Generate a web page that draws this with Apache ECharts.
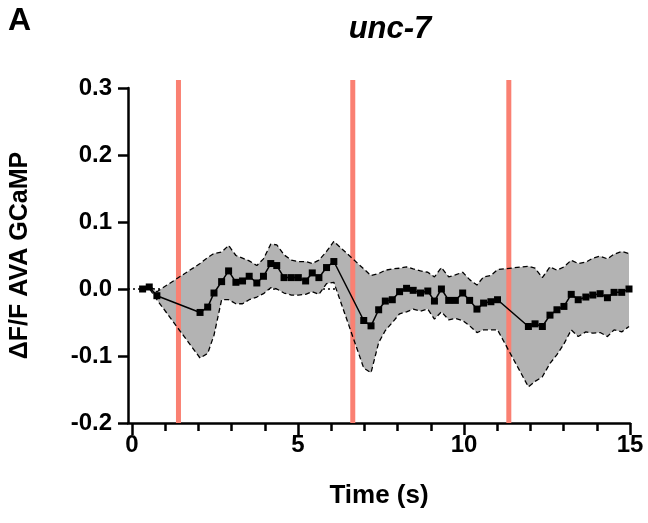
<!DOCTYPE html>
<html>
<head>
<meta charset="utf-8">
<script src="https://cdn.jsdelivr.net/npm/echarts@6/dist/echarts.min.js"></script>
<style>
html,body{margin:0;padding:0;background:#fff;}
#chart{width:648px;height:523px;}
</style>
</head>
<body>
<div id="chart"></div>
<script>
// ---- data ----
const panelLabel = 'A';
const chartTitle = 'unc-7';
const xName = 'Time (s)';
const yName = '\u0394F/F AVA GCaMP';

const times = [0.32,0.52,0.75,2.05,2.28,2.47,2.70,2.91,3.13,3.33,3.53,3.76,3.96,4.18,4.36,4.58,4.80,5.01,5.23,5.43,5.63,5.86,6.08,6.98,7.20,7.43,7.63,7.84,8.06,8.27,8.47,8.69,8.91,9.11,9.32,9.54,9.74,9.96,10.17,10.39,10.59,10.81,11.01,11.94,12.14,12.36,12.59,12.80,13.01,13.23,13.44,13.67,13.88,14.10,14.32,14.52,14.75,14.97];
const meanVals = [0.000,0.003,-0.010,-0.035,-0.027,-0.006,0.011,0.027,0.010,0.012,0.019,0.009,0.019,0.038,0.035,0.017,0.017,0.017,0.012,0.024,0.017,0.032,0.041,-0.047,-0.055,-0.031,-0.018,-0.016,-0.004,0.001,-0.002,-0.006,-0.003,-0.018,0.000,-0.017,-0.017,-0.006,-0.017,-0.030,-0.021,-0.019,-0.016,-0.056,-0.052,-0.056,-0.039,-0.031,-0.026,-0.008,-0.016,-0.012,-0.009,-0.007,-0.013,-0.005,-0.005,0.000];
const upperVals = [0.001,0.005,-0.004,0.038,0.047,0.053,0.055,0.065,0.050,0.046,0.042,0.035,0.045,0.067,0.066,0.051,0.043,0.041,0.041,0.038,0.043,0.056,0.071,0.030,0.020,0.023,0.028,0.030,0.031,0.033,0.030,0.027,0.025,0.018,0.032,0.018,0.021,0.025,0.014,0.006,0.018,0.020,0.029,0.034,0.031,0.017,0.033,0.028,0.033,0.043,0.038,0.040,0.046,0.049,0.045,0.052,0.056,0.053];
const lowerVals = [-0.001,0.001,-0.016,-0.103,-0.096,-0.069,-0.016,-0.016,-0.022,-0.022,-0.016,-0.012,-0.007,0.002,0.000,-0.006,-0.009,-0.009,-0.008,-0.004,-0.008,0.008,0.010,-0.118,-0.125,-0.080,-0.062,-0.050,-0.037,-0.034,-0.030,-0.033,-0.030,-0.045,-0.034,-0.046,-0.044,-0.047,-0.055,-0.065,-0.061,-0.061,-0.061,-0.146,-0.138,-0.131,-0.111,-0.098,-0.082,-0.061,-0.071,-0.064,-0.066,-0.065,-0.071,-0.061,-0.064,-0.056];
const stimTimes = [1.4, 6.65, 11.35];
const stimTop = 0.312;
const baselineValue = 0;

const xMin = -0.12, xMax = 15;
const yMin = -0.2, yMax = 0.3, yStep = 0.1;
const xMajorTicks = [0, 5, 10, 15];
const xMinorTicks = [1,2,3,4,6,7,8,9,11,12,13,14];

// ---- chart ----
const FONT = 'Liberation Sans, Arial, Helvetica, sans-serif';
const chart = echarts.init(document.getElementById('chart'), null, {renderer: 'canvas'});

const pairs = (xs, ys) => xs.map((x, i) => [x, ys[i]]);

const option = {
  animation: false,
  backgroundColor: '#fff',
  grid: {left: 127, right: 18, top: 88, bottom: 100, containLabel: false},
  graphic: [
    {type: 'text', left: 8, top: 5, style: {text: panelLabel, font: 'bold 32px ' + FONT, fill: '#000'}},
    {type: 'text', x: 390, y: 29, style: {text: chartTitle, font: 'italic bold 31px ' + FONT, fill: '#000', align: 'center', verticalAlign: 'middle'}}
  ],
  xAxis: [
    {
      type: 'value', min: xMin, max: xMax,
      name: xName, nameLocation: 'middle', nameGap: 60,
      nameTextStyle: {fontSize: 26, fontWeight: 'bold', color: '#000', fontFamily: FONT},
      axisLine: {onZero: false, lineStyle: {color: '#000', width: 2.5}},
      axisTick: {show: true, customValues: xMajorTicks, length: 12, lineStyle: {color: '#000', width: 2.5}},
      axisLabel: {customValues: xMajorTicks, fontSize: 24, fontWeight: 'bold', color: '#000', fontFamily: FONT, margin: 10},
      splitLine: {show: false}
    },
    {
      type: 'value', min: xMin, max: xMax, position: 'bottom',
      axisLine: {show: false, onZero: false},
      axisTick: {show: true, customValues: xMinorTicks, length: 8, lineStyle: {color: '#000', width: 2.5}},
      axisLabel: {show: false},
      splitLine: {show: false}
    }
  ],
  yAxis: {
    type: 'value', min: yMin, max: yMax, interval: yStep,
    name: yName, nameLocation: 'middle', nameGap: 95, nameRotate: 90,
    nameTextStyle: {fontSize: 25, fontWeight: 'bold', color: '#000', fontFamily: FONT},
    axisLine: {show: true, onZero: false, lineStyle: {color: '#000', width: 2.5}},
    axisTick: {show: true, length: 10, lineStyle: {color: '#000', width: 2.5}},
    axisLabel: {fontSize: 24, fontWeight: 'bold', color: '#000', fontFamily: FONT, margin: 16,
      formatter: v => v.toFixed(1)},
    splitLine: {show: false}
  },
  series: [
    {
      name: 'baseline', type: 'line', z: 1, silent: true,
      data: [[xMin, baselineValue], [xMax, baselineValue]],
      symbol: 'none',
      lineStyle: {color: '#000', width: 1.6, type: [2, 3]}
    },
    {
      name: 'band', type: 'custom', z: 2, silent: true,
      data: [[times[0], meanVals[0]]],
      renderItem: function (params, api) {
        const pts = [];
        for (let i = 0; i < times.length; i++) pts.push(api.coord([times[i], upperVals[i]]));
        for (let i = times.length - 1; i >= 0; i--) pts.push(api.coord([times[i], lowerVals[i]]));
        return {type: 'polygon', shape: {points: pts}, style: {fill: '#b3b3b3', stroke: null}};
      }
    },
    {
      name: 'stim', type: 'custom', z: 3, silent: true, clip: false,
      data: stimTimes.map(s => [s]),
      renderItem: function (params, api) {
        const s = api.value(0);
        const p0 = api.coord([s, yMin]);
        const p1 = api.coord([s, stimTop]);
        return {type: 'line', shape: {x1: p0[0], y1: p0[1], x2: p1[0], y2: p1[1]},
          style: {stroke: 'rgb(250,128,114)', lineWidth: 5, blend: 'multiply'}};
      }
    },
    {
      name: 'upper', type: 'line', z: 4, silent: true,
      data: pairs(times, upperVals), symbol: 'none',
      lineStyle: {color: '#000', width: 1.3, type: [5, 3]}
    },
    {
      name: 'lower', type: 'line', z: 4, silent: true,
      data: pairs(times, lowerVals), symbol: 'none',
      lineStyle: {color: '#000', width: 1.3, type: [5, 3]}
    },
    {
      name: 'mean', type: 'line', z: 5, silent: true,
      data: pairs(times, meanVals),
      symbol: 'rect', symbolSize: 7, showAllSymbol: true,
      itemStyle: {color: '#000'},
      lineStyle: {color: '#000', width: 1.5}
    }
  ]
};
chart.setOption(option);
</script>
</body>
</html>
